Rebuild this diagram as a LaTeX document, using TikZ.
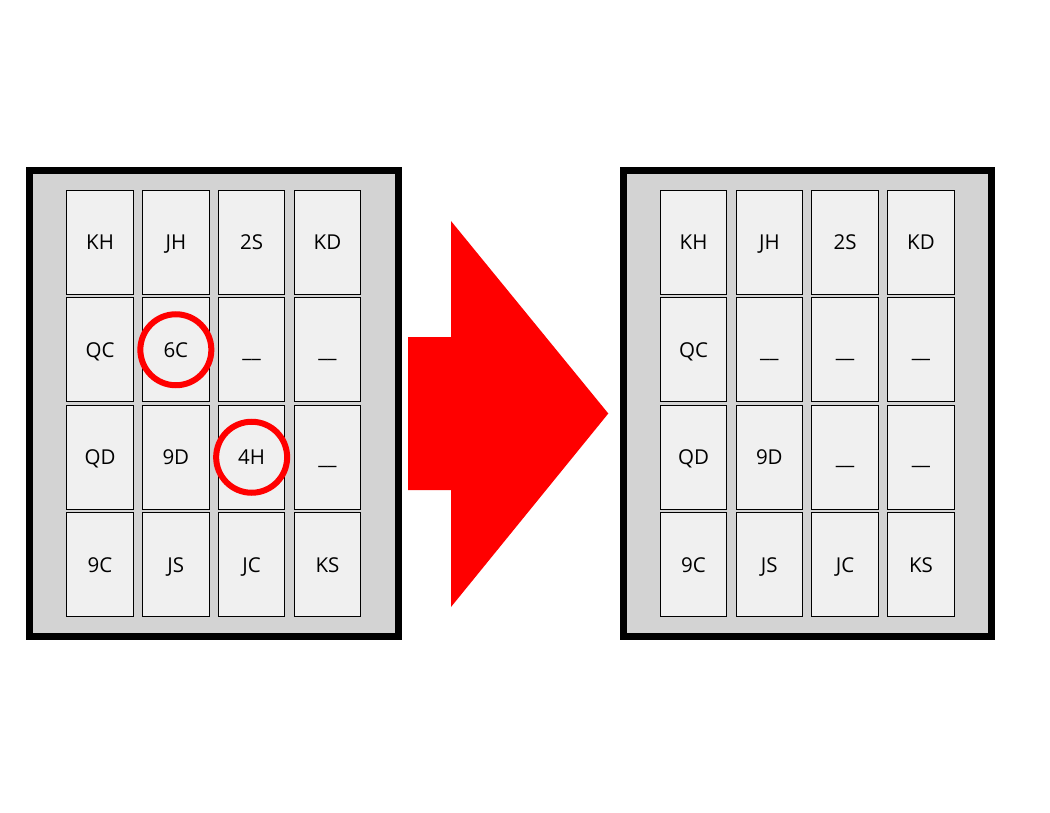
\documentclass[tikz,border=0pt]{standalone}
\usepackage{fontspec}
\setmainfont{Open Sans}
\usepackage{tikz}
\usetikzlibrary{matrix,positioning}
\definecolor{cardgray}{HTML}{F0F0F0}
\definecolor{panelgray}{HTML}{D3D3D3}
\tikzstyle{panel} = [rectangle, draw=black, line width=7pt, fill=panelgray,
                     minimum width=368.5pt, minimum height=465pt, inner sep=0pt]
\tikzstyle{ring}  = [circle, draw=red, line width=6pt, minimum size=71pt, inner sep=0pt]
\tikzstyle{bigarrow} = [fill=red]

\begin{document}
\begin{tikzpicture}[x=1pt, y=-1pt, font=\fontsize{20.5}{24}\selectfont,
            grid/.style={matrix of nodes,nodes={draw, line width=1pt, fill=cardgray,
                    minimum width=66.5pt, minimum height=104pt, inner sep=0pt,
                    text height=15pt, text depth=0pt},
                    column sep=8.3pt, row sep=2.5pt},
        ]
        \useasboundingbox (0,0) rectangle (1050,813);

        % before
        \node[panel] (leftpanel) at (213.75,403.5) {};
        \matrix[grid] (before) at (leftpanel.center) {
            KH & JH & 2S   & KD   \\
            QC & 6C & \_\_ & \_\_ \\
            QD & 9D & 4H   & \_\_ \\
            9C & JS & JC   & KS   \\
        };
        \node[ring] (pick1) at (before-2-2) {};
        \node[ring] (pick2) at (before-3-3) {};

        % arrow
        \fill[bigarrow] (408,337) -- (451,337) -- (451,221) -- (608.3,413.5)
            -- (451,607) -- (451,490) -- (408,490) -- cycle;

        % after
        \node[panel] (rightpanel) at (807.25,403.5) {};
        \matrix[grid] (after) at (rightpanel.center) {
            KH & JH   & 2S   & KD   \\
            QC & \_\_ & \_\_ & \_\_ \\
            QD & 9D   & \_\_ & \_\_ \\
            9C & JS   & JC   & KS   \\
        };
    \end{tikzpicture}
\end{document}
